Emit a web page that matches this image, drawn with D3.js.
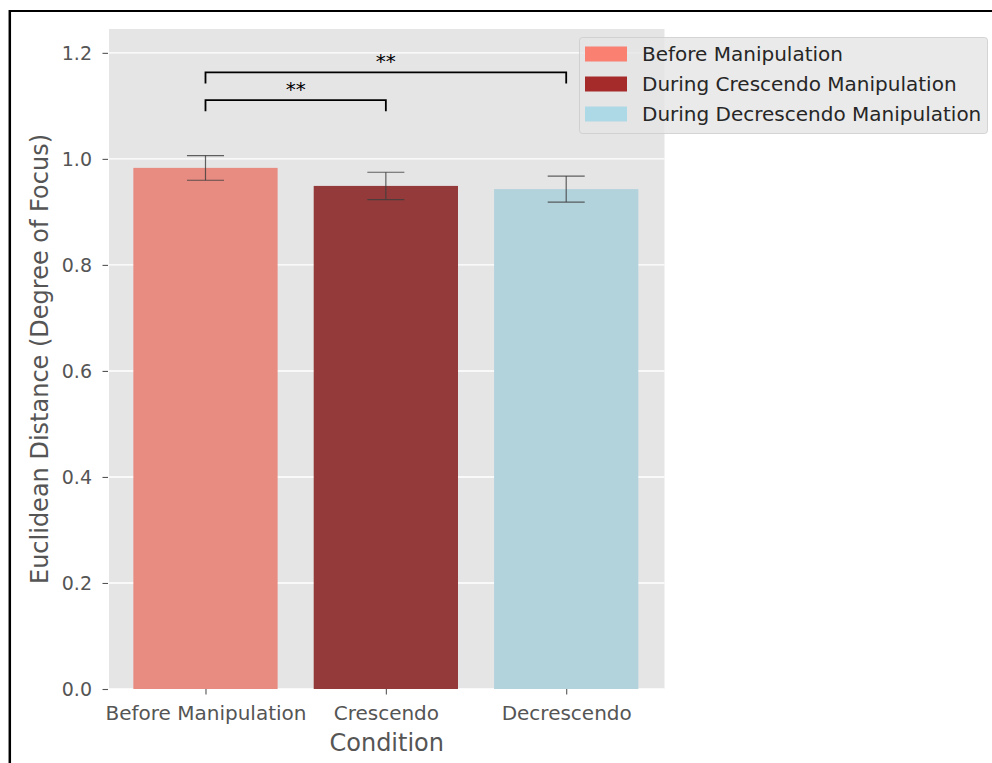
<!DOCTYPE html>
<html>
<head>
<meta charset="utf-8">
<script src="https://cdn.jsdelivr.net/npm/d3@7"></script>
<style>
  html, body { margin: 0; padding: 0; background: #ffffff; }
  svg { display: block; font-family: "DejaVu Sans", sans-serif; }
</style>
</head>
<body>
<svg id="chart" width="992" height="763"></svg>
<script>
// Conditions and their mean Euclidean distance (degree of focus) with error bars
const categories = ["Before Manipulation", "Crescendo", "Decrescendo"];
const means = [0.983, 0.949, 0.943];
const errors = [0.0233, 0.0258, 0.0245];
const barColors = ["#e88c82", "#953a3a", "#b3d3dc"];

const legendLabels = ["Before Manipulation", "During Crescendo Manipulation", "During Decrescendo Manipulation"];
const legendColors = ["#fa8072", "#a52a2a", "#add8e6"];

const yTicks = [0.0, 0.2, 0.4, 0.6, 0.8, 1.0, 1.2];

// Significance brackets: bar index pairs, bracket height and tip length
const sigFrom = [0, 0];
const sigTo = [2, 1];
const sigY = [1.163, 1.111];
const sigDrop = [0.021, 0.021];
const sigText = ["**", "**"];

const svg = d3.select("#chart");

const plot = { left: 109, right: 664.5, top: 29, bottom: 689 };

const x = d3.scaleLinear().domain([-0.535, 2.545]).range([plot.left, plot.right]);
const y = d3.scaleLinear().domain([0, 1.245]).range([plot.bottom, plot.top]);
const barW = x(0.8) - x(0);

// figure frame (top and left edges)
svg.append("line").attr("x1", 9.5).attr("x2", 992).attr("y1", 11).attr("y2", 11)
  .attr("stroke", "#000").attr("stroke-width", 2.2);
svg.append("line").attr("x1", 9.8).attr("x2", 9.8).attr("y1", 10).attr("y2", 763)
  .attr("stroke", "#000").attr("stroke-width", 2.5);

// axes background
svg.append("rect")
  .attr("x", plot.left).attr("y", plot.top)
  .attr("width", plot.right - plot.left).attr("height", plot.bottom - plot.top)
  .attr("fill", "#e5e5e5");

// horizontal grid
svg.append("g").selectAll("line").data(yTicks).join("line")
  .attr("x1", plot.left).attr("x2", plot.right)
  .attr("y1", d => y(d)).attr("y2", d => y(d))
  .attr("stroke", "#ffffff").attr("stroke-width", 1.4);

// bars
svg.append("g").selectAll("rect").data(means).join("rect")
  .attr("x", (d, i) => x(i) - barW / 2)
  .attr("y", d => y(d))
  .attr("width", barW)
  .attr("height", d => y(0) - y(d))
  .attr("fill", (d, i) => barColors[i]);

// error bars
const eb = svg.append("g").attr("stroke", "#3c3c3c").attr("stroke-opacity", 0.8).attr("stroke-width", 1.2);
means.forEach((m, i) => {
  const cx = x(i), capHalf = 18.5;
  eb.append("line").attr("x1", cx).attr("x2", cx).attr("y1", y(m + errors[i])).attr("y2", y(m - errors[i]));
  eb.append("line").attr("x1", cx - capHalf).attr("x2", cx + capHalf).attr("y1", y(m + errors[i])).attr("y2", y(m + errors[i]));
  eb.append("line").attr("x1", cx - capHalf).attr("x2", cx + capHalf).attr("y1", y(m - errors[i])).attr("y2", y(m - errors[i]));
});

// significance brackets
const sig = svg.append("g");
sigY.forEach((h, k) => {
  const x1 = x(sigFrom[k]), x2 = x(sigTo[k]);
  const yTop = y(h), yEnd = y(h - sigDrop[k]);
  sig.append("path")
    .attr("d", `M${x1},${yEnd}L${x1},${yTop}L${x2},${yTop}L${x2},${yEnd}`)
    .attr("fill", "none").attr("stroke", "#000").attr("stroke-width", 1.8);
  sig.append("text")
    .attr("x", (x1 + x2) / 2).attr("y", yTop - 4.5)
    .attr("text-anchor", "middle")
    .attr("font-size", 20).attr("fill", "#000")
    .text(sigText[k]);
});

// y axis
const yAxis = svg.append("g")
  .attr("transform", `translate(${plot.left - 1},0)`)
  .call(d3.axisLeft(y).tickValues(yTicks).tickFormat(d3.format(".1f")).tickSize(5.5).tickPadding(10.5));
yAxis.select(".domain").remove();
yAxis.selectAll(".tick line").attr("stroke", "#555555").attr("stroke-width", 1.1);
yAxis.selectAll(".tick text")
  .attr("fill", "#555555").attr("font-size", 19).attr("font-family", "DejaVu Sans")
  .attr("dy", "0.36em");

// x axis
const xAxis = svg.append("g")
  .attr("transform", `translate(0,${plot.bottom})`)
  .call(d3.axisBottom(x).tickValues([0, 1, 2]).tickFormat(i => categories[i]).tickSize(5.5).tickPadding(11));
xAxis.select(".domain").remove();
xAxis.selectAll(".tick line").attr("stroke", "#555555").attr("stroke-width", 1.1);
xAxis.selectAll(".tick text")
  .attr("fill", "#555555").attr("font-size", 20).attr("font-family", "DejaVu Sans");

// axis labels
svg.append("text")
  .attr("x", (plot.left + plot.right) / 2).attr("y", 751)
  .attr("text-anchor", "middle").attr("font-size", 24).attr("fill", "#555555")
  .text("Condition");
svg.append("text")
  .attr("transform", `translate(48,${(plot.top + plot.bottom) / 2}) rotate(-90)`)
  .attr("text-anchor", "middle").attr("font-size", 24).attr("fill", "#555555")
  .text("Euclidean Distance (Degree of Focus)");

// legend
const lg = svg.append("g");
lg.append("rect")
  .attr("x", 579.5).attr("y", 37.5).attr("width", 408).attr("height", 96).attr("rx", 3)
  .attr("fill", "#e5e5e5").attr("fill-opacity", 0.8)
  .attr("stroke", "#cccccc").attr("stroke-opacity", 0.8);
legendLabels.forEach((lab, i) => {
  const cy = 54 + i * 30;
  lg.append("rect")
    .attr("x", 585).attr("y", cy - 7.5).attr("width", 42).attr("height", 15)
    .attr("fill", legendColors[i]);
  lg.append("text")
    .attr("x", 642).attr("y", cy + 7.2)
    .attr("font-size", 20).attr("fill", "#262626")
    .text(lab);
});
</script>
</body>
</html>
